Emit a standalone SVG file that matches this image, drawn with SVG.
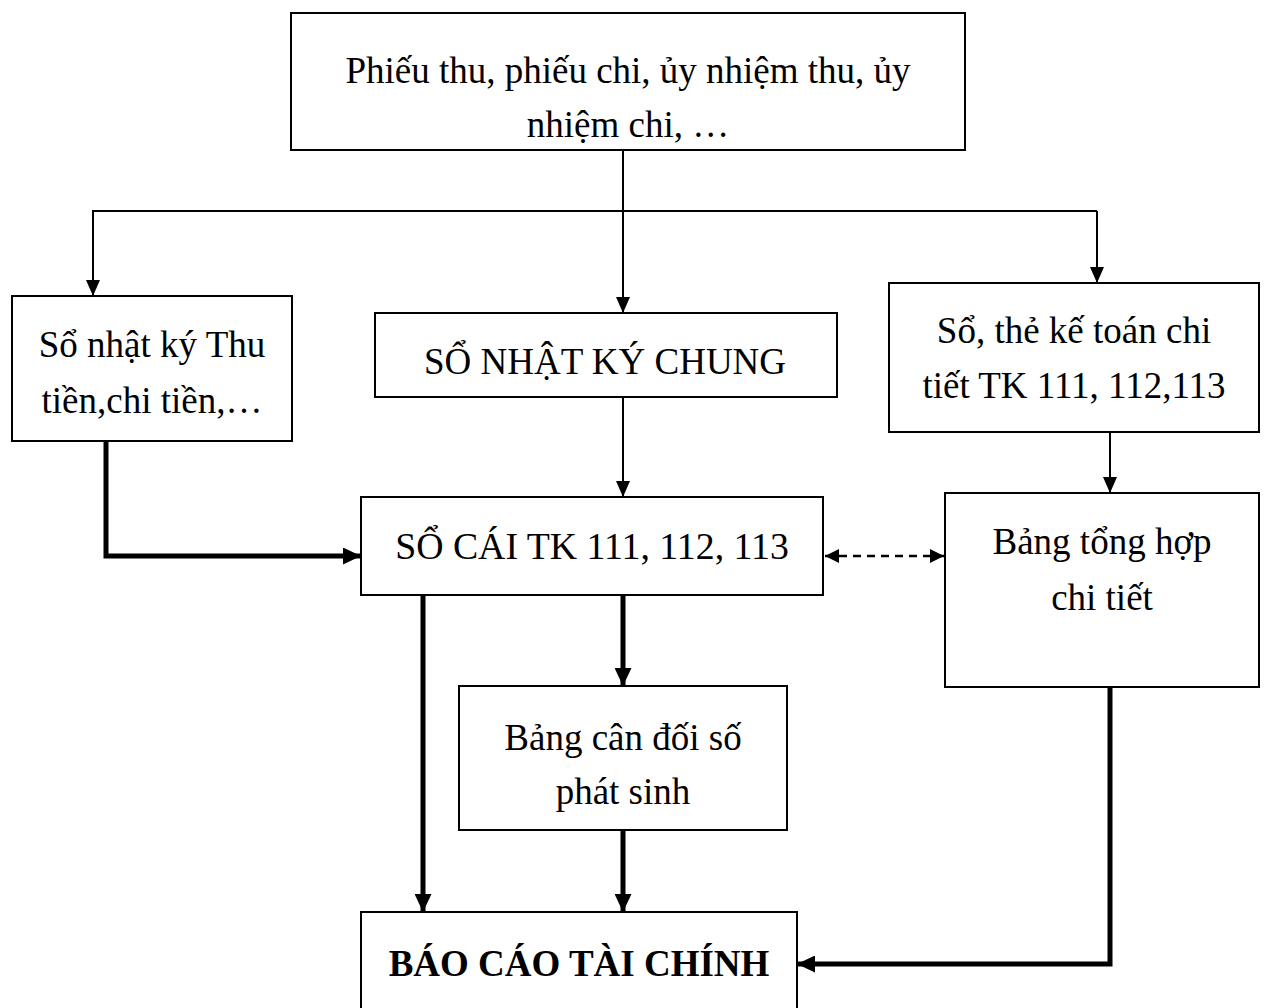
<svg xmlns="http://www.w3.org/2000/svg" width="1264" height="1008" viewBox="0 0 1264 1008">
<style>
.box{fill:#fff;stroke:#000;stroke-width:2}
.t{font-family:"Liberation Serif","Times New Roman",serif;font-size:37px;fill:#000;text-anchor:middle}
.b{font-weight:bold}
.thin{fill:none;stroke:#000;stroke-width:2}
.thick{fill:none;stroke:#000;stroke-width:5}
.dash{fill:none;stroke:#000;stroke-width:2.5;stroke-dasharray:8 6}
</style>
<defs>
<marker id="a" markerUnits="userSpaceOnUse" markerWidth="16" markerHeight="14" refX="16" refY="7" orient="auto"><path d="M0,0 L16,7 L0,14 z" fill="#000"/></marker>
<marker id="A" markerUnits="userSpaceOnUse" markerWidth="18" markerHeight="17" refX="18" refY="8.5" orient="auto"><path d="M0,0 L18,8.5 L0,17 z" fill="#000"/></marker>
<marker id="d" markerUnits="userSpaceOnUse" markerWidth="14" markerHeight="14" refX="14" refY="7" orient="auto-start-reverse"><path d="M0,0 L14,7 L0,14 z" fill="#000"/></marker>
</defs>
<g id="connectors">
<path class="thin" d="M623,150 V313" marker-end="url(#a)"/>
<path class="thin" d="M92,211 H1097"/>
<path class="thin" d="M93,211 V296" marker-end="url(#a)"/>
<path class="thin" d="M1097,211 V283" marker-end="url(#a)"/>
<path class="thin" d="M623,397 V497" marker-end="url(#a)"/>
<path class="thin" d="M1110,432 V493" marker-end="url(#a)"/>
<path class="dash" d="M825,556 H944" marker-start="url(#d)" marker-end="url(#d)"/>
<path class="thick" d="M106,441 V556 H361" marker-end="url(#A)"/>
<path class="thick" d="M423,595 V912" marker-end="url(#A)"/>
<path class="thick" d="M623,595 V686" marker-end="url(#A)"/>
<path class="thick" d="M623,830 V912" marker-end="url(#A)"/>
<path class="thick" d="M1110,687 V964 H797" marker-end="url(#A)"/>
</g>
<g id="n1"><rect class="box" x="291" y="13" width="674" height="137"/>
<text class="t" x="628" y="83">Phiếu thu, phiếu chi, ủy nhiệm thu, ủy</text>
<text class="t" x="628" y="137">nhiệm chi, …</text></g>
<g id="n2"><rect class="box" x="12" y="296" width="280" height="145"/>
<text class="t" x="152" y="357">Sổ nhật ký Thu</text>
<text class="t" x="152" y="413">tiền,chi tiền,…</text></g>
<g id="n3"><rect class="box" x="375" y="313" width="462" height="84"/>
<text class="t" x="605" y="374">SỔ NHẬT KÝ CHUNG</text></g>
<g id="n4"><rect class="box" x="889" y="283" width="370" height="149"/>
<text class="t" x="1074" y="343">Sổ, thẻ kế toán chi</text>
<text class="t" x="1074" y="398">tiết TK 111, 112,113</text></g>
<g id="n5"><rect class="box" x="361" y="497" width="462" height="98"/>
<text class="t" x="592" y="559" style="font-size:37.8px">SỔ CÁI TK 111, 112, 113</text></g>
<g id="n6"><rect class="box" x="945" y="493" width="314" height="194"/>
<text class="t" x="1102" y="554">Bảng tổng hợp</text>
<text class="t" x="1102" y="610">chi tiết</text></g>
<g id="n7"><rect class="box" x="459" y="686" width="328" height="144"/>
<text class="t" x="623" y="750">Bảng cân đối số</text>
<text class="t" x="623" y="804">phát sinh</text></g>
<g id="n8"><rect class="box" x="361" y="912" width="436" height="110"/>
<text class="t b" x="579" y="976">BÁO CÁO TÀI CHÍNH</text></g>
</svg>
